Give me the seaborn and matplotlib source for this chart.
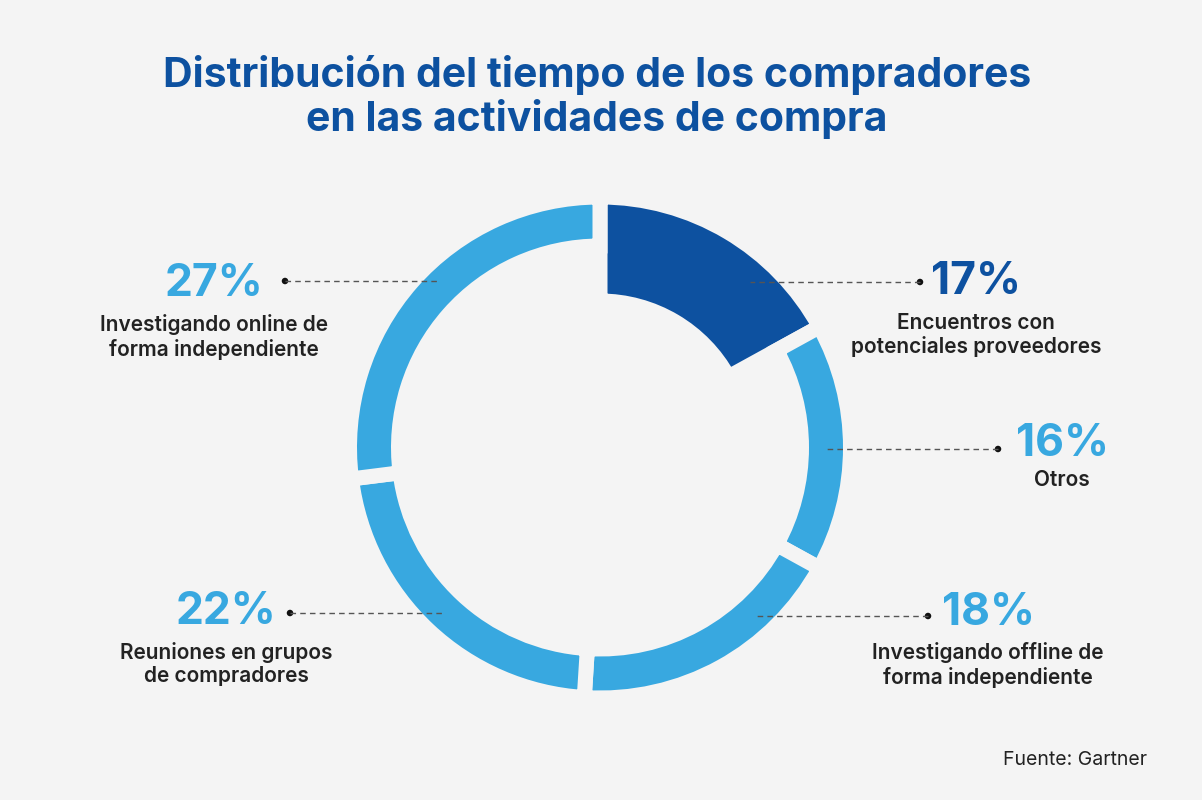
import matplotlib
matplotlib.use("Agg")
import matplotlib.pyplot as plt
import seaborn as sns

# Data
values = [17, 16, 18, 22, 27]
pct_labels = ["17%", "16%", "18%", "22%", "27%"]
descriptions = [
    "Encuentros con\npotenciales proveedores",
    "Otros",
    "Investigando offline de\nforma independiente",
    "Reuniones en grupos\nde compradores",
    "Investigando online de\nforma independiente",
]
title = "Distribución del tiempo de los compradores\nen las actividades de compra"
source = "Fuente: Gartner"

# Style
bg = "#f4f4f4"
light = "#38a8e0"
dark = "#0d51a0"
text_dark = "#222222"

sns.set_theme(style="white")
plt.rcParams["font.family"] = ["Inter", "DejaVu Sans"]

W, H = 1202, 800
fig = plt.figure(figsize=(W / 100, H / 100), dpi=100, facecolor=bg)
ax = fig.add_axes([0, 0, 1, 1])
ax.set_facecolor(bg)

def Y(y):
    return H - y

# donut
cx, cy = 600, 447.5
r_out = 243
ring_w = 34
dark_w = 89
gap = 15  # px
colors = [dark] + [light] * (len(values) - 1)
wedges, _ = ax.pie(values, colors=colors, startangle=90, counterclock=False,
                   center=(cx, Y(cy)), radius=r_out + gap / 2, frame=True,
                   wedgeprops=dict(width=ring_w + gap, edgecolor=bg,
                                   linewidth=gap * 0.72, joinstyle="miter"))
wedges[0].set_width(dark_w + gap)
ax.set_xlim(0, W)
ax.set_ylim(0, H)
ax.set_aspect("equal")
ax.axis("off")

# leader lines: (x_dot, x_inner, y)
leaders = [(920, 750, 282), (998, 827, 449), (928, 757, 616),
           (290, 445, 613), (285, 438, 281)]
for (xd, xi, yl) in leaders:
    ax.plot([xd, xi], [Y(yl), Y(yl)], ls=(0, (4, 3)), color="#555555", lw=1.0)
sns.scatterplot(x=[l[0] for l in leaders], y=[Y(l[2]) for l in leaders],
                color="#111111", s=22, ax=ax, legend=False, edgecolor="none")

# labels: (x_center, y_pct, y_desc)
label_pos = [(976, 282, 335), (1062, 444, 480), (988, 613, 665),
             (226, 612, 664), (214, 284, 337)]
pct_colors = [dark, light, light, light, light]
for (xc, yp, yd), p, d, c in zip(label_pos, pct_labels, descriptions, pct_colors):
    ax.text(xc, Y(yp), p, ha="center", va="center", fontsize=32,
            fontweight="bold", color=c)
    ax.text(xc, Y(yd), d, ha="center", va="center", fontsize=15,
            fontweight="semibold", color=text_dark, linespacing=1.2)

ax.text(597, Y(97), title, ha="center", va="center", fontsize=29.5,
        fontweight="bold", color=dark, linespacing=1.15)
ax.text(1075, Y(760), source, ha="center", va="center", fontsize=14,
        color=text_dark)

fig.savefig("out.png", dpi=100, facecolor=bg)
